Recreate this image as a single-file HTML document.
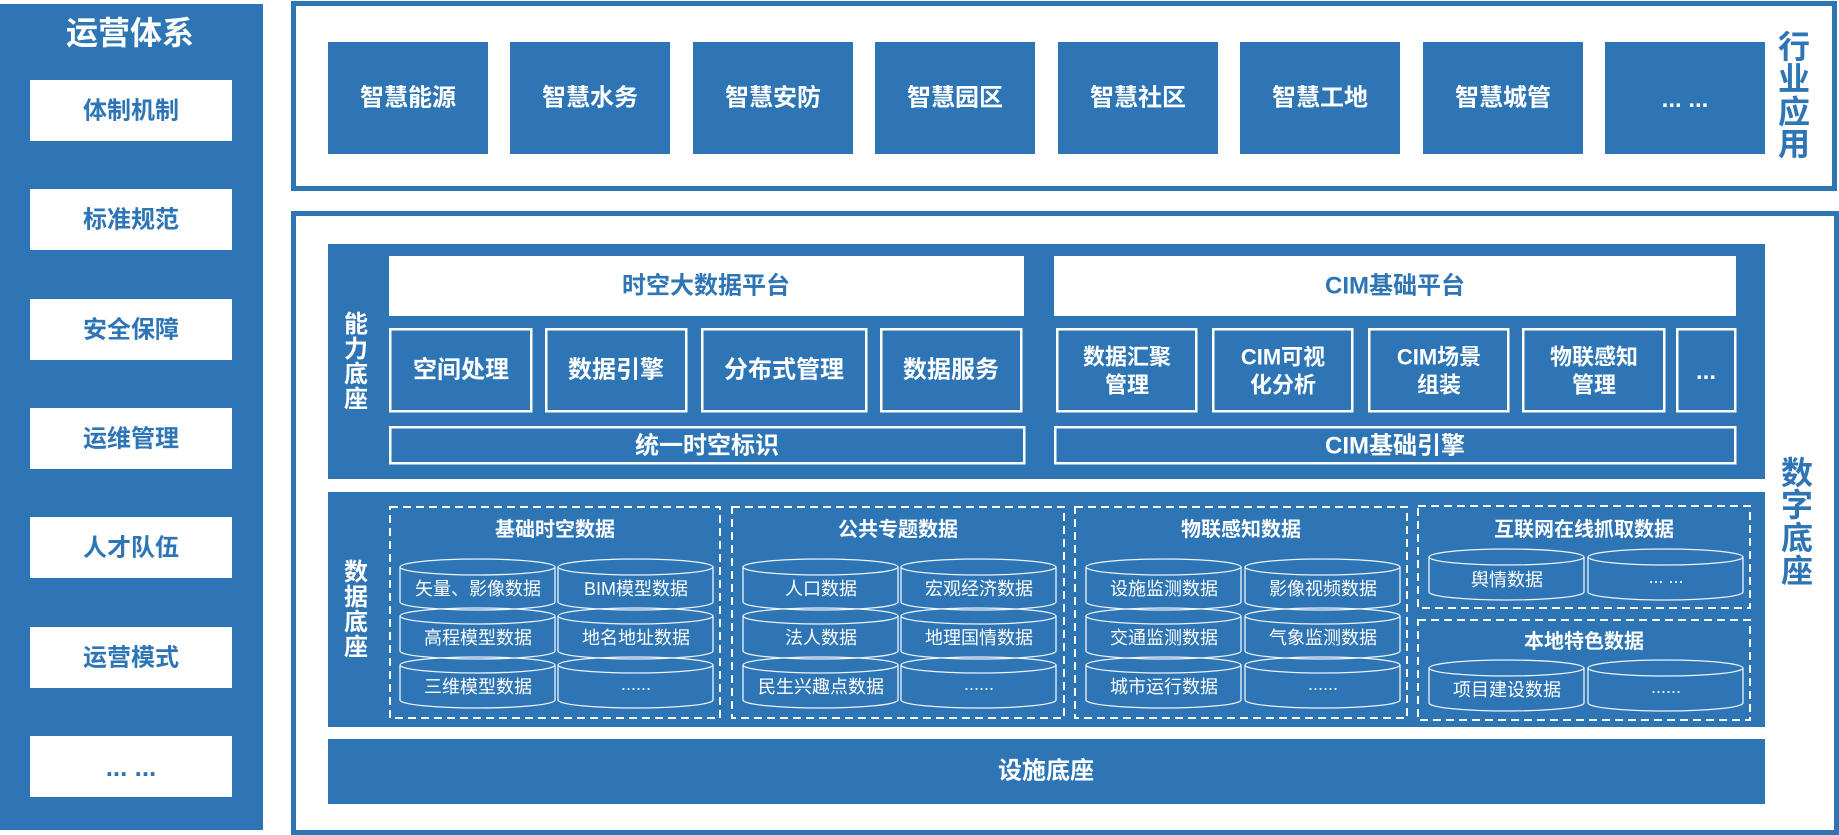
<!DOCTYPE html>
<html><head><meta charset="utf-8"><style>
html,body{margin:0;padding:0;background:#fff;}
body{width:1839px;height:835px;overflow:hidden;}
svg{display:block;}
text{font-family:"Liberation Sans","Noto Sans CJK SC",sans-serif;}
.b{font-weight:bold;}
.wt{fill:#fff;}
.bt{fill:#2e75b6;}
.c{stroke:#fff;stroke-width:1.3;fill:none;opacity:0.92;}
.d{stroke:#fff;stroke-width:2;fill:none;stroke-dasharray:8 5;}
.o{stroke:#fff;stroke-width:2.5;fill:none;}
</style></head><body>
<svg width="1839" height="835" viewBox="0 0 1839 835" xmlns="http://www.w3.org/2000/svg">
<defs>
<path id="cyl" d="M0,8 A77.5,8 0 1,0 155,8 A77.5,8 0 1,0 0,8 Z M0,8 L0,43 A77.5,8 0 0,0 155,43 L155,8"/>
</defs>

<!-- Left panel -->
<rect x="0" y="4" width="263" height="826" fill="#2e75b6"/>
<text x="130" y="33" class="b wt" font-size="32" text-anchor="middle" dominant-baseline="central">运营体系</text>
<g fill="#fff">
<rect x="30" y="80" width="202" height="61"/>
<rect x="30" y="189" width="202" height="61"/>
<rect x="30" y="299" width="202" height="61"/>
<rect x="30" y="408" width="202" height="61"/>
<rect x="30" y="517" width="202" height="61"/>
<rect x="30" y="627" width="202" height="61"/>
<rect x="30" y="736" width="202" height="61"/>
</g>
<g class="b bt" font-size="24" text-anchor="middle" dominant-baseline="central">
<text x="131" y="111">体制机制</text>
<text x="131" y="220">标准规范</text>
<text x="131" y="330">安全保障</text>
<text x="131" y="439">运维管理</text>
<text x="131" y="548">人才队伍</text>
<text x="131" y="658">运营模式</text>
</g>
<text x="131" y="776" class="b bt" font-size="26" text-anchor="middle" style="font-family:'Liberation Sans',sans-serif">... ...</text>

<!-- Top frame -->
<rect x="293.5" y="3.5" width="1541" height="185" fill="#fff" stroke="#2e75b6" stroke-width="5"/>
<g fill="#2e75b6">
<rect x="328" y="42" width="160" height="112"/>
<rect x="510" y="42" width="160" height="112"/>
<rect x="693" y="42" width="160" height="112"/>
<rect x="875" y="42" width="160" height="112"/>
<rect x="1058" y="42" width="160" height="112"/>
<rect x="1240" y="42" width="160" height="112"/>
<rect x="1423" y="42" width="160" height="112"/>
<rect x="1605" y="42" width="160" height="112"/>
</g>
<g class="b wt" font-size="24" text-anchor="middle" dominant-baseline="central">
<text x="408" y="98">智慧能源</text>
<text x="590" y="98">智慧水务</text>
<text x="773" y="98">智慧安防</text>
<text x="955" y="98">智慧园区</text>
<text x="1138" y="98">智慧社区</text>
<text x="1320" y="98">智慧工地</text>
<text x="1503" y="98">智慧城管</text>
</g>
<text x="1685" y="107" class="b wt" font-size="24" text-anchor="middle" style="font-family:'Liberation Sans',sans-serif">... ...</text>
<text class="b bt" font-size="32" text-anchor="middle" dominant-baseline="central"><tspan x="1794" y="47">行</tspan><tspan x="1794" y="79">业</tspan><tspan x="1794" y="112">应</tspan><tspan x="1794" y="144">用</tspan></text>

<!-- Bottom frame -->
<rect x="293.5" y="213.5" width="1543" height="619" fill="#fff" stroke="#2e75b6" stroke-width="5"/>
<text class="b bt" font-size="32" text-anchor="middle" dominant-baseline="central"><tspan x="1797" y="473">数</tspan><tspan x="1797" y="505">字</tspan><tspan x="1797" y="538">底</tspan><tspan x="1797" y="571">座</tspan></text>

<!-- Capability base -->
<rect x="328" y="244" width="1437" height="235" fill="#2e75b6"/>
<text class="b wt" font-size="24" text-anchor="middle" dominant-baseline="central"><tspan x="356" y="324">能</tspan><tspan x="356" y="349">力</tspan><tspan x="356" y="374">底</tspan><tspan x="356" y="399">座</tspan></text>
<rect x="389" y="256" width="635" height="60" fill="#fff"/>
<rect x="1054" y="256" width="682" height="60" fill="#fff"/>
<text x="706" y="286" class="b bt" font-size="24" text-anchor="middle" dominant-baseline="central">时空大数据平台</text>
<text x="1395" y="286" class="b bt" font-size="24" text-anchor="middle" dominant-baseline="central">CIM基础平台</text>

<g class="o">
<rect x="390.25" y="329.25" width="141" height="82"/>
<rect x="546.25" y="329.25" width="140" height="82"/>
<rect x="702.25" y="329.25" width="164" height="82"/>
<rect x="881.25" y="329.25" width="140" height="82"/>
<rect x="1057.25" y="329.25" width="139" height="82"/>
<rect x="1213.25" y="329.25" width="139" height="82"/>
<rect x="1369.25" y="329.25" width="139" height="82"/>
<rect x="1523.25" y="329.25" width="141" height="82"/>
<rect x="1677.25" y="329.25" width="58" height="82"/>
<rect x="390.25" y="427.25" width="634" height="36"/>
<rect x="1055.25" y="427.25" width="680" height="36"/>
</g>
<g class="b wt" font-size="24" text-anchor="middle" dominant-baseline="central">
<text x="461" y="370">空间处理</text>
<text x="616" y="370">数据引擎</text>
<text x="784" y="370">分布式管理</text>
<text x="951" y="370">数据服务</text>
<text x="707" y="446">统一时空标识</text>
<text x="1395" y="446">CIM基础引擎</text>
</g>
<g class="b wt" font-size="22" text-anchor="middle" dominant-baseline="central">
<text x="1127" y="357">数据汇聚</text><text x="1127" y="385">管理</text>
<text x="1283" y="357">CIM可视</text><text x="1283" y="385">化分析</text>
<text x="1439" y="357">CIM场景</text><text x="1439" y="385">组装</text>
<text x="1594" y="357">物联感知</text><text x="1594" y="385">管理</text>
</g>
<text x="1706" y="379" class="b wt" font-size="24" text-anchor="middle" style="font-family:'Liberation Sans',sans-serif">...</text>

<!-- Data base -->
<rect x="328" y="492" width="1437" height="235" fill="#2e75b6"/>
<text class="b wt" font-size="24" text-anchor="middle" dominant-baseline="central"><tspan x="356" y="572">数</tspan><tspan x="356" y="597">据</tspan><tspan x="356" y="622">底</tspan><tspan x="356" y="647">座</tspan></text>

<g class="d">
<rect x="390" y="507" width="330" height="211"/>
<rect x="732" y="507" width="332" height="211"/>
<rect x="1075" y="507" width="332" height="211"/>
<rect x="1418" y="506" width="332" height="102"/>
<rect x="1418" y="620" width="332" height="100"/>
</g>
<g class="b wt" font-size="20" text-anchor="middle" dominant-baseline="central">
<text x="555" y="530">基础时空数据</text>
<text x="898" y="530">公共专题数据</text>
<text x="1241" y="530">物联感知数据</text>
<text x="1584" y="530">互联网在线抓取数据</text>
<text x="1584" y="642">本地特色数据</text>
</g>

<g class="c">
<use href="#cyl" x="400" y="559"/><use href="#cyl" x="558" y="559"/>
<use href="#cyl" x="400" y="608"/><use href="#cyl" x="558" y="608"/>
<use href="#cyl" x="400" y="657"/><use href="#cyl" x="558" y="657"/>
<use href="#cyl" x="743" y="559"/><use href="#cyl" x="901" y="559"/>
<use href="#cyl" x="743" y="608"/><use href="#cyl" x="901" y="608"/>
<use href="#cyl" x="743" y="657"/><use href="#cyl" x="901" y="657"/>
<use href="#cyl" x="1086" y="559"/><use href="#cyl" x="1245" y="559"/>
<use href="#cyl" x="1086" y="608"/><use href="#cyl" x="1245" y="608"/>
<use href="#cyl" x="1086" y="657"/><use href="#cyl" x="1245" y="657"/>
<use href="#cyl" x="1429" y="549"/><use href="#cyl" x="1588" y="549"/>
<use href="#cyl" x="1429" y="660"/><use href="#cyl" x="1588" y="660"/>
</g>
<g class="wt" font-size="18" text-anchor="middle" dominant-baseline="central">
<text x="478" y="589">矢量、影像数据</text><text x="636" y="589">BIM模型数据</text>
<text x="478" y="638">高程模型数据</text><text x="636" y="638">地名地址数据</text>
<text x="478" y="687">三维模型数据</text>
<text x="821" y="589">人口数据</text><text x="979" y="589">宏观经济数据</text>
<text x="821" y="638">法人数据</text><text x="979" y="638">地理国情数据</text>
<text x="821" y="687">民生兴趣点数据</text>
<text x="1164" y="589">设施监测数据</text><text x="1323" y="589">影像视频数据</text>
<text x="1164" y="638">交通监测数据</text><text x="1323" y="638">气象监测数据</text>
<text x="1164" y="687">城市运行数据</text>
<text x="1507" y="580">舆情数据</text>
<text x="1507" y="690">项目建设数据</text>
</g>
<g class="wt" font-size="18" text-anchor="middle" style="font-family:'Liberation Sans',sans-serif">
<text x="636" y="690">......</text>
<text x="979" y="690">......</text>
<text x="1323" y="690">......</text>
<text x="1666" y="583">... ...</text>
<text x="1666" y="693">......</text>
</g>

<!-- Facility base -->
<rect x="328" y="739" width="1437" height="65" fill="#2e75b6"/>
<text x="1046" y="771" class="b wt" font-size="24" text-anchor="middle" dominant-baseline="central">设施底座</text>
</svg>
</body></html>
